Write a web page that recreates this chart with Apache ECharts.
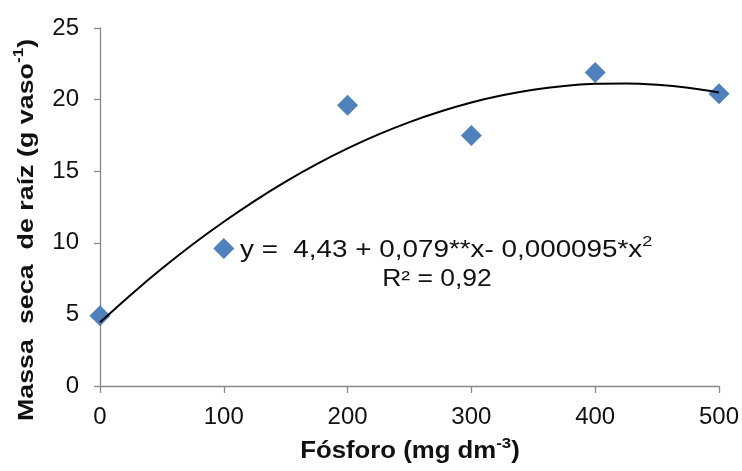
<!DOCTYPE html>
<html>
<head>
<meta charset="utf-8">
<script src="https://cdn.jsdelivr.net/npm/echarts@6/dist/echarts.min.js"></script>
<style>html,body{margin:0;padding:0;background:#fff}#c{width:742px;height:471px}</style>
</head>
<body>
<div id="c"></div>
<script>
// Observed data points
var doses = [0, 100, 200, 300, 400, 500];
var rootMass = [4.9, 9.6, 19.6, 17.5, 21.9, 20.4];
// Trend curve
var trendX = [0, 25, 50, 75, 100, 125, 150, 175, 200, 225, 250, 275, 300, 325, 350, 375, 400, 425, 450, 475, 500];
var trendY = [4.45, 6.38, 8.2, 9.9, 11.47, 12.93, 14.27, 15.49, 16.59, 17.57, 18.43, 19.17, 19.8, 20.3, 20.69, 20.95, 21.1, 21.13, 21.03, 20.82, 20.49];
var xTicks = [0, 100, 200, 300, 400, 500];
var yTicks = [0, 5, 10, 15, 20, 25];

var FONT = 'Liberation Sans, Arial, sans-serif';
var chart = echarts.init(document.getElementById('c'), null, {renderer: 'canvas'});
var axisColor = '#898989';

chart.setOption({
  animation: false,
  backgroundColor: '#fff',
  grid: {left: 100, right: 23, top: 28, bottom: 85, containLabel: false},
  xAxis: {
    type: 'value', min: xTicks[0], max: xTicks[xTicks.length - 1], interval: 100,
    axisLine: {lineStyle: {color: axisColor, width: 1.3}},
    axisTick: {show: true, inside: false, length: 7, lineStyle: {color: axisColor, width: 1.3}},
    splitLine: {show: false},
    axisLabel: {fontFamily: FONT, fontSize: 24, color: '#111', margin: 19}
  },
  yAxis: {
    type: 'value', min: yTicks[0], max: yTicks[yTicks.length - 1], interval: 5,
    axisLine: {show: true, lineStyle: {color: axisColor, width: 1.3}},
    axisTick: {show: true, inside: false, length: 6, lineStyle: {color: axisColor, width: 1.3}},
    splitLine: {show: false},
    axisLabel: {fontFamily: FONT, fontSize: 24, color: '#111', margin: 21}
  },
  series: [
    {
      type: 'scatter',
      data: doses.map(function (d, i) { return [d, rootMass[i]]; }),
      symbol: 'diamond',
      symbolSize: 21,
      itemStyle: {color: '#4F81BD', opacity: 1},
      z: 2
    },
    {
      type: 'line',
      data: trendX.map(function (d, i) { return [d, trendY[i]]; }),
      smooth: 0.3,
      showSymbol: false,
      symbol: 'none',
      lineStyle: {color: '#000', width: 2},
      z: 3
    }
  ],
  graphic: [
    {
      type: 'text',
      x: 25, y: 230,
      rotation: Math.PI / 2,
      scaleX: 1.22,
      style: {
        text: '{m|Massa  seca  de raíz (g vaso}{s|-1}{m|)}',
        align: 'center', verticalAlign: 'middle',
        rich: {
          m: {fontFamily: FONT, fontSize: 22, fontWeight: 'bold', fill: '#111', lineHeight: 26, verticalAlign: 'bottom'},
          s: {fontFamily: FONT, fontSize: 14, fontWeight: 'bold', fill: '#111', lineHeight: 26, verticalAlign: 'top'}
        }
      }
    },
    {
      type: 'text',
      x: 410, y: 450,
      scaleX: 1.12,
      style: {
        text: '{m|Fósforo (mg dm}{s|-3}{m|)}',
        align: 'center', verticalAlign: 'middle',
        rich: {
          m: {fontFamily: FONT, fontSize: 23, fontWeight: 'bold', fill: '#111', lineHeight: 27, verticalAlign: 'bottom'},
          s: {fontFamily: FONT, fontSize: 15, fontWeight: 'bold', fill: '#111', lineHeight: 27, verticalAlign: 'top'}
        }
      }
    },
    {
      type: 'text',
      x: 240, y: 248,
      scaleX: 1.21,
      style: {
        text: '{m|y =  4,43 + 0,079**x- 0,000095*x}{s|2}',
        align: 'left', verticalAlign: 'middle',
        rich: {
          m: {fontFamily: FONT, fontSize: 23, fill: '#111', lineHeight: 28, verticalAlign: 'bottom'},
          s: {fontFamily: FONT, fontSize: 15, fill: '#111', lineHeight: 28, verticalAlign: 'top'}
        }
      }
    },
    {
      type: 'text',
      x: 437, y: 280,
      scaleX: 1.15,
      style: {
        text: 'R² = 0,92',
        align: 'center', verticalAlign: 'middle',
        fontFamily: FONT, fontSize: 23, fill: '#111'
      }
    }
  ]
});
</script>
</body>
</html>
